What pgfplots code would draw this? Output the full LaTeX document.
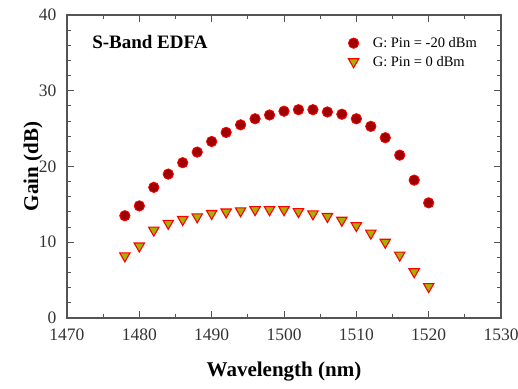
\documentclass[border=0pt]{standalone}
\usepackage{fontspec}
\setmainfont{Liberation Serif}
\usepackage{pgfplots}
\pgfplotsset{compat=1.18}
\definecolor{axgray}{HTML}{555555}
\definecolor{circfill}{HTML}{A00000}
\definecolor{trifill}{HTML}{A8B000}
\begin{document}
\begin{tikzpicture}
\begin{axis}[
  at={(0,0)}, anchor=south west,
  width=434pt, height=303pt, scale only axis,
  xmin=1470, xmax=1530, ymin=0, ymax=40,
  xtick={1470,1480,...,1530}, ytick={0,10,...,40},
  minor xtick={1475,1485,...,1525},
  minor ytick={2,4,6,8,12,14,16,18,22,24,26,28,32,34,36,38},
  tick align=inside,
  major tick length=7pt, minor tick length=4.5pt,
  axis line style={axgray, line width=1.2pt},
  every tick/.style={axgray, line width=1pt},
  tick label style={font=\fontsize{17.5}{21}\selectfont, text=black!80},
  yticklabel style={xshift=-7pt},
  xticklabel style={yshift=-7pt},
  /pgf/number format/assume math mode=true,
  /pgf/number format/1000 sep={},
  xlabel={Wavelength (nm)}, ylabel={Gain (dB)},
  label style={font=\bfseries\fontsize{21}{25}\selectfont},
  xlabel style={at={(axis description cs:0.5,-0.178)}, anchor=center},
  ylabel style={at={(axis description cs:-0.078,0.5)}, anchor=center, rotate=0},
  legend style={at={(axis description cs:0.641,0.94)}, anchor=north west,
    draw=none, fill=none, font=\fontsize{14.5}{17}\selectfont,
    row sep=3pt, column sep=12pt},
  legend cell align=left,
]
\addplot[only marks, mark=*, mark size=5.2pt,
  mark options={fill=circfill, draw=red, line width=0.8pt}]
coordinates {
(1478,13.5) (1480,14.8) (1482,17.25) (1484,19.0) (1486,20.5) (1488,21.9)
(1490,23.3) (1492,24.5) (1494,25.5) (1496,26.3) (1498,26.8) (1500,27.3)
(1502,27.5) (1504,27.5) (1506,27.2) (1508,26.9) (1510,26.3) (1512,25.3)
(1514,23.8) (1516,21.5) (1518,18.2) (1520,15.2)
};
\addlegendentry{G: Pin = -20 dBm}
\addplot[only marks, mark=triangle*, mark size=6pt,
  mark options={rotate=180, fill=trifill, draw=red, line width=1.1pt}]
coordinates {
(1478,8.2) (1480,9.5) (1482,11.6) (1484,12.5) (1486,13.0) (1488,13.35)
(1490,13.8) (1492,14.0) (1494,14.15) (1496,14.3) (1498,14.3) (1500,14.3)
(1502,14.05) (1504,13.75) (1506,13.4) (1508,12.9) (1510,12.2) (1512,11.2)
(1514,10.0) (1516,8.3) (1518,6.1) (1520,4.15)
};
\addlegendentry{G: Pin = 0 dBm}
\node[font=\bfseries\fontsize{19}{22}\selectfont] at (axis description cs:0.191,0.912) {S-Band EDFA};
\end{axis}
\pgfresetboundingbox
\useasboundingbox (-67pt,-70pt) rectangle (451pt,318pt);
\end{tikzpicture}
\end{document}
